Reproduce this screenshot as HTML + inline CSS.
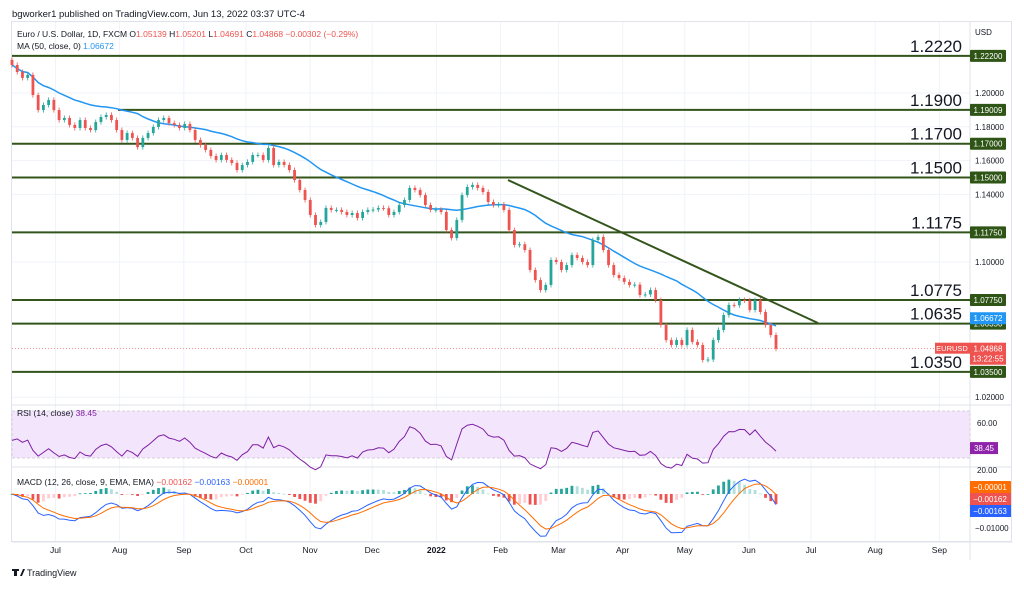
<!DOCTYPE html>
<html><head><meta charset="utf-8">
<style>
body{margin:0;background:#fff;font-family:"Liberation Sans",sans-serif;}
#wrap{position:relative;width:1024px;height:589px;overflow:hidden;background:#fff}
svg text{font-family:"Liberation Sans",sans-serif}
</style></head><body>
<div id="wrap">
<svg id="chart" width="1024" height="589"></svg>
</div>
<script>
const closes=[1.2166,1.2124,1.2089,1.2107,1.1988,1.1899,1.1929,1.1959,1.1899,1.1840,1.1852,1.1811,1.1793,1.1840,1.1793,1.1781,1.1828,1.1858,1.1870,1.1840,1.1781,1.1722,1.1763,1.1734,1.1680,1.1734,1.1763,1.1799,1.1840,1.1852,1.1822,1.1811,1.1793,1.1817,1.1781,1.1722,1.1692,1.1663,1.1627,1.1604,1.1633,1.1604,1.1586,1.1544,1.1574,1.1592,1.1633,1.1633,1.1604,1.1675,1.1574,1.1592,1.1574,1.1544,1.1485,1.1426,1.1367,1.1278,1.1219,1.1237,1.1320,1.1308,1.1308,1.1296,1.1278,1.1290,1.1260,1.1296,1.1308,1.1310,1.1320,1.1318,1.1278,1.1296,1.1337,1.1367,1.1438,1.1426,1.1396,1.1337,1.1308,1.1310,1.1296,1.1189,1.1142,1.1249,1.1396,1.1444,1.1456,1.1438,1.1414,1.1355,1.1337,1.1340,1.1308,1.1189,1.1101,1.1105,1.1071,1.0953,1.0893,1.0834,1.0864,1.1012,1.1000,1.0953,1.0982,1.1041,1.1024,1.1000,1.0982,1.1130,1.1148,1.1071,1.0982,1.0923,1.0905,1.0882,1.0864,1.0866,1.0805,1.0808,1.0834,1.0775,1.0627,1.0538,1.0509,1.0538,1.0509,1.0598,1.0527,1.0509,1.0420,1.0423,1.0538,1.0598,1.0686,1.0746,1.0744,1.0775,1.0773,1.0716,1.0775,1.0704,1.0627,1.0568,1.0487];
const levels=[1.2220,1.1900,1.1700,1.1500,1.1175,1.0775,1.0635,1.0350];
const levelLabels=["1.2220","1.1900","1.1700","1.1500","1.1175","1.0775","1.0635","1.0350"];
const levelTags=["1.22200","1.19009","1.17000","1.15000","1.11750","1.07750","1.06350","1.03500"];
const priceTicks=[1.20,1.18,1.16,1.14,1.10,1.02];
const months=["Jul","Aug","Sep","Oct","Nov","Dec","2022","Feb","Mar","Apr","May","Jun","Jul","Aug","Sep"];
const monthDays=[21,52,83,113,144,174,205,236,264,295,325,356,386,417,448];
const rsiTicks=[60,20];
const macdTicks=[-0.01];

const NS="http://www.w3.org/2000/svg";
const svg=document.getElementById('chart');
function el(t,a,p){const e=document.createElementNS(NS,t);for(const k in a)e.setAttribute(k,a[k]);(p||svg).appendChild(e);return e;}
const X0=12,X1=776,RIGHT=970;
const xi=i=>X0+i*(X1-X0)/(closes.length-1);
const py=p=>93+(1.20-p)*1690;
const dayX=d=>12+d*2.07;
const ry=v=>411+(70-v)*1.175;
const my=v=>494-v*3400;

for(const d of monthDays){const g=el('line',{x1:dayX(d),x2:dayX(d),y1:22,y2:542,stroke:'#f0f3fa'});

}
for(const p of priceTicks){const g=el('line',{x1:12,x2:RIGHT,y1:py(p),y2:py(p),stroke:'#f0f3fa'});

}
el('rect',{x:11.5,y:21.5,width:1000,height:520,fill:'none',stroke:'#e0e3eb'});
el('line',{x1:RIGHT,x2:RIGHT,y1:22,y2:560,stroke:'#e0e3eb'});
el('line',{x1:12,x2:1012,y1:405,y2:405,stroke:'#e0e3eb'});
el('line',{x1:12,x2:1012,y1:467,y2:467,stroke:'#e0e3eb'});
el('line',{x1:12,x2:1012,y1:542,y2:542,stroke:'#e0e3eb'});

let t=el('text',{x:12,y:17,'font-size':9.5,fill:'#131722'});t.textContent='bgworker1 published on TradingView.com, Jun 13, 2022 03:37 UTC-4';

t=el('text',{x:17,y:37,'font-size':8.5,fill:'#131722'});
t.innerHTML='Euro / U.S. Dollar, 1D, FXCM  O<tspan fill="#ef5350">1.05139</tspan>  H<tspan fill="#ef5350">1.05201</tspan>  L<tspan fill="#ef5350">1.04691</tspan>  C<tspan fill="#ef5350">1.04868  −0.00302 (−0.29%)</tspan>';

t=el('text',{x:17,y:49,'font-size':8.5,fill:'#131722'});t.innerHTML='MA (50, close, 0)  <tspan fill="#2196f3">1.06672</tspan>';

t=el('text',{x:975,y:35,'font-size':8,fill:'#131722'});t.textContent='USD';


for(const p of priceTicks){const a=el('text',{x:975,y:py(p)+3,'font-size':8,fill:'#131722'});a.textContent=p.toFixed(5);

}

levels.forEach((lv,k)=>{
  const y=py(lv);const xs=(k==1)?118:12;
  const l=el('line',{x1:xs,x2:RIGHT,y1:y,y2:y,stroke:'#33551b','stroke-width':2});
  
  
  const tx=el('text',{x:962,y:y-4,'font-size':17,fill:'#131722','text-anchor':'end'});tx.textContent=levelLabels[k];
  
  
  const r=el('rect',{x:970,y:y-6,width:36,height:12,rx:1,fill:'#2e5416'});
  
  
  const tt=el('text',{x:988,y:y+3,'font-size':8,fill:'#fff','text-anchor':'middle'});tt.textContent=levelTags[k];
  
  
});

const maWin=25;const ma=closes.map((c,i)=>{const s=closes.slice(Math.max(0,i-maWin+1),i+1);return s.reduce((a,b)=>a+b,0)/s.length;});
let d='';ma.forEach((v,i)=>{d+=(i?'L':'M')+xi(i).toFixed(1)+' '+py(v).toFixed(1);});
let p=el('path',{d:d,fill:'none',stroke:'#2196f3','stroke-width':1.5});


closes.forEach((c,i)=>{
  const o=i?closes[i-1]:c+0.003;const up=c>=o;const col=up?'#26a69a':'#ef5350';
  const hi=Math.max(o,c)+0.0015,lo=Math.min(o,c)-0.0015;const x=xi(i);
  const g=el('g',{});
  
  
  el('line',{x1:x,x2:x,y1:py(hi),y2:py(lo),stroke:col,'stroke-width':0.8},g);
  const y1=py(Math.max(o,c)),y2=py(Math.min(o,c));
  el('rect',{x:x-1.4,y:y1,width:2.8,height:Math.max(1,y2-y1),fill:col},g);
});

p=el('line',{x1:508,y1:180,x2:818,y2:323,stroke:'#33551b','stroke-width':2});


const last=closes[closes.length-1];const cy=py(last);
p=el('line',{x1:12,x2:RIGHT,y1:cy,y2:cy,stroke:'#ef5350','stroke-dasharray':'1 2','stroke-width':0.7});

p=el('rect',{x:935,y:cy-6,width:35,height:11,fill:'#ef5350'});
t=el('text',{x:952,y:cy+2.5,'font-size':7.5,fill:'#fff','text-anchor':'middle'});t.textContent='EURUSD';
p=el('rect',{x:970,y:cy-6,width:36,height:22,fill:'#ef5350'});
t=el('text',{x:988,y:cy+3,'font-size':8,fill:'#fff','text-anchor':'middle'});t.textContent='1.04868';
t=el('text',{x:988,y:cy+13,'font-size':8,fill:'#fff','text-anchor':'middle'});t.textContent='13:22:55';
p=el('rect',{x:970,y:py(1.06672)-6,width:36,height:12,fill:'#2196f3'});
t=el('text',{x:988,y:py(1.06672)+3,'font-size':8,fill:'#fff','text-anchor':'middle'});t.textContent='1.06672';

p=el('rect',{x:12,y:ry(70),width:958,height:ry(30)-ry(70),fill:'#f3e5fc',stroke:'#c8c8d0','stroke-dasharray':'3 2','stroke-width':0.7});

const per=14;let ag=0.002,al=0.002;const rsi=[];
closes.forEach((c,i)=>{if(!i){rsi.push(45);return;}const ch=c-closes[i-1];const g=Math.max(ch,0),l=Math.max(-ch,0);
 ag=(ag*(per-1)+g)/per;al=(al*(per-1)+l)/per;
 rsi.push(100-100/(1+ag/al));});
d='';rsi.forEach((v,i)=>{d+=(i?'L':'M')+xi(i).toFixed(1)+' '+ry(v).toFixed(1);});
p=el('path',{d:d,fill:'none',stroke:'#7e1fa2','stroke-width':1});
t=el('text',{x:17,y:416,'font-size':8.5,fill:'#131722'});t.innerHTML='RSI (14, close)  <tspan fill="#7e1fa2">38.45</tspan>';
for(const v of rsiTicks){const a=el('text',{x:977,y:ry(v)+3,'font-size':8,fill:'#131722'});a.textContent=v.toFixed(2);

}
p=el('rect',{x:970,y:ry(38.45)-6,width:28,height:12,fill:'#8e24aa'});
t=el('text',{x:984,y:ry(38.45)+3,'font-size':8,fill:'#fff','text-anchor':'middle'});t.textContent='38.45';

function ema(a,n){const k=2/(n+1);const o=[];a.forEach((v,i)=>o.push(i?v*k+o[i-1]*(1-k):v));return o;}
const ef=ema(closes,6),es=ema(closes,13);const macd=ef.map((v,i)=>v-es[i]);const sig=ema(macd,5);
macd.forEach((v,i)=>{const h=v-sig[i];const prev=i?macd[i-1]-sig[i-1]:0;
 const col=h>=0?(h>=prev?'#26a69a':'#b2dfdb'):(h<prev?'#ef5350':'#ffcdd2');
 const y=my(h);const r=el('rect',{x:xi(i)-1.4,y:Math.min(y,my(0)),width:2.8,height:Math.max(0.8,Math.abs(y-my(0))),fill:col});
 
 });
d='';macd.forEach((v,i)=>{d+=(i?'L':'M')+xi(i).toFixed(1)+' '+my(v).toFixed(1);});
p=el('path',{d:d,fill:'none',stroke:'#2962ff','stroke-width':1});
d='';sig.forEach((v,i)=>{d+=(i?'L':'M')+xi(i).toFixed(1)+' '+my(v).toFixed(1);});
p=el('path',{d:d,fill:'none',stroke:'#ff6d00','stroke-width':1});
t=el('text',{x:17,y:485,'font-size':8.5,fill:'#131722'});t.innerHTML='MACD (12, 26, close, 9, EMA, EMA)  <tspan fill="#ef5350">−0.00162</tspan>  <tspan fill="#2962ff">−0.00163</tspan>  <tspan fill="#ff6d00">−0.00001</tspan>';
for(const v of macdTicks){const a=el('text',{x:975,y:my(v)+3,'font-size':8,fill:'#131722'});a.textContent='−0.01000';

}
[['#ff6d00','−0.00001',487],['#ef5350','−0.00162',499],['#2962ff','−0.00163',511]].forEach(q=>{
 const r=el('rect',{x:970,y:q[2]-6,width:41,height:12,fill:q[0]});
 const tx=el('text',{x:990,y:q[2]+3,'font-size':8,fill:'#fff','text-anchor':'middle'});tx.textContent=q[1];});

months.forEach((m,k)=>{const a=el('text',{x:dayX(monthDays[k]),y:553,'font-size':8.5,fill:'#131722','text-anchor':'middle','font-weight':m==='2022'?'bold':'normal'});a.textContent=m;

});

const lg=el('g',{});
el('path',{d:'M12 569h7v2h-2v5h-3v-5h-2z M20 576l3-7h2l-3 7z',fill:'#131722'},lg);
t=el('text',{x:27,y:576,'font-size':9,fill:'#131722'},lg);t.textContent='TradingView';
</script>
</body></html>
